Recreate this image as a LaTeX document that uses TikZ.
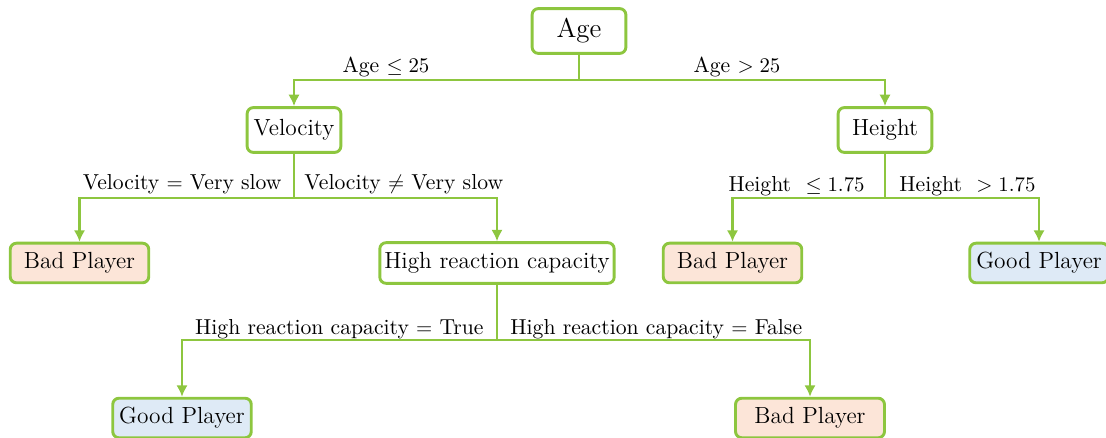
\documentclass[tikz,border=0pt]{standalone}
\usetikzlibrary{arrows.meta}
\definecolor{tgreen}{RGB}{141,198,63}
\definecolor{badfill}{RGB}{252,229,216}
\definecolor{goodfill}{RGB}{222,234,246}
\tikzset{
  box/.style={draw=tgreen, line width=1.4pt, rounded corners=3pt, inner sep=1pt, align=center, font=\fontsize{11.2}{13}\selectfont},
  badbox/.style={box, fill=badfill, minimum width=66.5pt, minimum height=19pt},
  goodbox/.style={box, fill=goodfill, minimum width=66.5pt, minimum height=19pt},
  conn/.style={draw=tgreen, line width=1.4pt},
  arr/.style={conn, -{Latex[length=5.5pt,width=5.5pt]}},
  lbl/.style={inner sep=0pt, font=\fontsize{10.4}{12}\selectfont}
}
\begin{document}
\begin{tikzpicture}[x=0.48pt, y=-0.48pt]
\useasboundingbox (0,0) rectangle (1106,438);
% nodes
\node[box, font=\fontsize{13}{15}\selectfont, minimum width=45pt, minimum height=21.5pt] (age) at (579,31) {Age};
\node[box, minimum width=45pt, minimum height=21.5pt] (vel) at (294,130) {Velocity};
\node[box, minimum width=45pt, minimum height=21.5pt] (hei) at (885,130) {Height};
\node[badbox] (bad1) at (79.5,263) {Bad Player};
\node[box, minimum width=112.5pt, minimum height=19.5pt] (hrc) at (497,263) {High reaction capacity};
\node[badbox] (bad2) at (732.5,263) {Bad Player};
\node[goodbox] (good1) at (1039,263) {Good Player};
\node[goodbox] (good2) at (182,418) {Good Player};
\node[badbox, minimum width=71.5pt] (bad3) at (810,418) {Bad Player};
% bus points
\coordinate (b1) at (579,80);
\coordinate (b2) at (294,198);
\coordinate (b3) at (885,198);
\coordinate (b4) at (497,340);
% connectors
\draw[conn] (age.south) -- (b1);
\draw[arr] (b1) -| (vel.north);
\draw[arr] (b1) -| (hei.north);
\draw[conn] (vel.south) -- (b2);
\draw[arr] (b2) -| (bad1.north);
\draw[arr] (b2) -| (hrc.north);
\draw[conn] (hei.south) -- (b3);
\draw[arr] (b3) -| (bad2.north);
\draw[arr] (b3) -| (good1.north);
\draw[conn] (hrc.south) -- (b4);
\draw[arr] (b4) -| (good2.north);
\draw[arr] (b4) -| (bad3.north);
% labels
\node[lbl, anchor=base] (l1) at (386,73) {Age $\leq 25$};
\node[lbl, anchor=base] (l2) at (737,73) {Age $> 25$};
\node[lbl, anchor=base east] (l3) at (282,190) {Velocity $=$ Very slow};
\node[lbl, anchor=base west] (l4) at (304,190) {Velocity $\neq$ Very slow};
\node[lbl, anchor=base east] (l5) at (865,192) {Height\ \ $\leq 1.75$};
\node[lbl, anchor=base west] (l6) at (899,192) {Height\ \ $> 1.75$};
\node[lbl, anchor=base east] (l7) at (484,335) {High reaction capacity $=$ True};
\node[lbl, anchor=base west] (l8) at (510,335) {High reaction capacity $=$ False};
\end{tikzpicture}
\end{document}
